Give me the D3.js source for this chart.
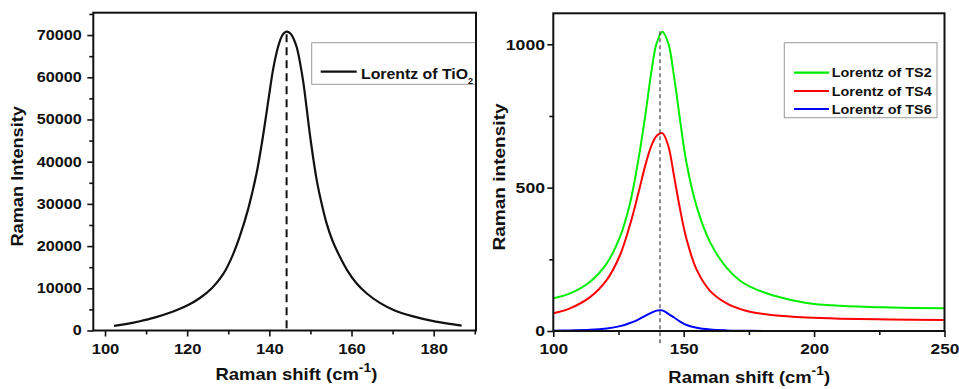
<!DOCTYPE html>
<html>
<head>
<meta charset="utf-8">
<script src="https://cdn.jsdelivr.net/npm/d3@7/dist/d3.min.js"></script>
<style>
  html, body { margin: 0; padding: 0; background: #fff; }
  svg { display: block; }
  text { font-family: "Liberation Sans", Arial, Helvetica, sans-serif; font-weight: bold; fill: #111; }
</style>
</head>
<body>
<svg id="chart" width="959" height="389"></svg>
<script>
// ---- Left panel: Lorentz fit of TiO2 ----
const tio2Shift = [102.2, 105, 108.5, 112, 116.6, 120, 123.1, 126, 128.8, 130.8, 132.8, 134.9, 136.9, 138.2, 139.3, 140.1, 140.9, 141.8, 142.6, 143.4, 144.2, 145.2, 146, 146.7, 147.5, 148.3, 149.1, 149.9, 151.5, 152.6, 153.9, 155.4, 157.2, 159, 161.2, 163.8, 166.9, 170.5, 175, 180.5, 186.8];
const tio2Intensity = [1080, 1500, 2200, 3050, 4500, 5900, 7700, 10000, 13400, 17200, 22300, 29000, 37300, 44500, 51500, 56800, 61800, 66000, 68700, 70300, 70800, 70300, 68900, 67000, 63300, 58600, 52500, 46200, 35800, 30600, 25500, 21200, 17400, 14200, 11200, 8700, 6550, 4750, 3350, 2100, 1150];
const tio2Peak = 144.2;

const leftXTicks = [100, 120, 140, 160, 180];
const leftXMinor = [110, 130, 150, 170, 190];
const leftYTicks = [0, 10000, 20000, 30000, 40000, 50000, 60000, 70000];
const leftYMinor = [5000, 15000, 25000, 35000, 45000, 55000, 65000, 75000];

// ---- Right panel: Lorentz fits of TS2 / TS4 / TS6 ----
const tsShift = [100, 106.4, 114.1, 120.5, 125.6, 129.4, 132.6, 135.2, 137.7, 139.6, 141.8, 144.1, 146.3, 148.6, 151.1, 155, 160.1, 166.5, 171.5, 175.4, 184.4, 197.2, 209.9, 229.1, 250];
const ts2 = [114, 131, 172, 236, 329, 445, 596, 747, 910, 1003, 1044, 1003, 887, 736, 585, 433, 310, 220, 176, 155, 124, 98, 88, 82, 79];
const ts4 = [62, 79, 118, 178, 265, 370, 480, 575, 648, 680, 690, 645, 540, 425, 320, 213, 140, 96, 77, 67, 55, 47, 43, 40, 38];
const ts6 = [1, 2, 4, 9, 17, 28, 40, 53, 64, 71, 72, 60, 47, 33, 21, 11, 5, 2, 1, 0.5, 0, 0, 0, 0, 0];
const tsPeak = 140.9;
const tsNames = ["Lorentz of TS2", "Lorentz of TS4", "Lorentz of TS6"];
const tsColors = ["#00ee00", "#ff0000", "#0000ff"];

const rightXTicks = [100, 150, 200, 250];
const rightXMinor = [125, 175, 225];
const rightYTicks = [0, 500, 1000];
const rightYMinor = [250, 750];

const svg = d3.select("#chart");

// Scales
const xL = d3.scaleLinear().domain([97.15, 190.3]).range([93.3, 476]);
const yL = d3.scaleLinear().domain([0, 75300]).range([330.5, 12.7]);
const xR = d3.scaleLinear().domain([100, 250]).range([553.3, 944.5]);
const yR = d3.scaleLinear().domain([0, 1108]).range([331, 13.3]);

// Stretch a plain text element's advance to a given width per character
function widen(sel, adv) {
  sel.attr("textLength", function () { return this.textContent.length * adv; })
     .attr("lengthAdjust", "spacingAndGlyphs");
}

function drawAxes(x, y, xt, xm, yt, ym, opt) {
  const [x0] = x.range();
  const [y0] = y.range();
  const gx = svg.append("g").attr("transform", `translate(0,${y0})`)
    .call(d3.axisBottom(x).tickValues(xt).tickSize(6).tickPadding(opt.xPad).tickFormat(d3.format("d")));
  gx.select(".domain").remove();
  gx.selectAll("line").attr("stroke", "#111").attr("stroke-width", 1.6);
  gx.selectAll("text").attr("font-size", opt.xFont).attr("fill", "#111").call(widen, opt.xAdv);

  const gxm = svg.append("g").attr("transform", `translate(0,${y0})`)
    .call(d3.axisBottom(x).tickValues(xm).tickSize(4).tickFormat(""));
  gxm.select(".domain").remove();
  gxm.selectAll("line").attr("stroke", "#111").attr("stroke-width", 1.6);

  const gy = svg.append("g").attr("transform", `translate(${x0},0)`)
    .call(d3.axisLeft(y).tickValues(yt).tickSize(6).tickPadding(opt.yPad).tickFormat(d3.format("d")));
  gy.select(".domain").remove();
  gy.selectAll("line").attr("stroke", "#111").attr("stroke-width", 1.6);
  gy.selectAll("text").attr("font-size", opt.yFont).attr("fill", "#111").call(widen, opt.yAdv);

  const gym = svg.append("g").attr("transform", `translate(${x0},0)`)
    .call(d3.axisLeft(y).tickValues(ym).tickSize(4).tickFormat(""));
  gym.select(".domain").remove();
  gym.selectAll("line").attr("stroke", "#111").attr("stroke-width", 1.6);
}

function frame(x, y) {
  const [x0, x1] = x.range();
  const [y0, y1] = y.range();
  svg.append("rect").attr("x", x0).attr("y", y1).attr("width", x1 - x0).attr("height", y0 - y1)
    .attr("fill", "none").attr("stroke", "#111").attr("stroke-width", 2);
}

// Axis title with a superscript, stretched to the given width
function xTitle(cx, baseline, width) {
  const g = svg.append("g");
  const t = g.append("text").attr("text-anchor", "middle").attr("font-size", 16);
  t.append("tspan").text("Raman shift (cm");
  t.append("tspan").attr("font-size", 12).attr("dy", -8).text("-1");
  t.append("tspan").attr("dy", 8).text(")");
  const w = t.node().getBBox().width;
  g.attr("transform", `translate(${cx},${baseline}) scale(${width / w},1)`);
}

function yTitle(label, bx, cy, length) {
  const g = svg.append("g");
  const t = g.append("text").attr("text-anchor", "middle").attr("font-size", 16).text(label);
  const w = t.node().getBBox().width;
  g.attr("transform", `translate(${bx},${cy}) rotate(-90) scale(${length / w},1)`);
}

const smooth = d3.curveCatmullRom.alpha(0.5);

// ---------- Left panel ----------
drawAxes(xL, yL, leftXTicks, leftXMinor, leftYTicks, leftYMinor,
  { xPad: 6.5, xFont: 15, xAdv: 9.2, yPad: 5.6, yFont: 14, yAdv: 9.0 });

const lineL = d3.line().x((d, i) => xL(tio2Shift[i])).y(d => yL(d)).curve(smooth);
svg.append("path").datum(tio2Intensity).attr("d", lineL)
  .attr("fill", "none").attr("stroke", "#111").attr("stroke-width", 2.2);

svg.append("line")
  .attr("x1", xL(tio2Peak)).attr("x2", xL(tio2Peak))
  .attr("y1", yL(70200)).attr("y2", yL(0))
  .attr("stroke", "#111").attr("stroke-width", 2).attr("stroke-dasharray", "8,5");

frame(xL, yL);

// Legend (left)
svg.append("rect").attr("x", 311.7).attr("y", 42.7).attr("width", 164).attr("height", 41.6)
  .attr("fill", "#fff").attr("stroke", "#9a9a9a").attr("stroke-width", 1);
svg.append("line").attr("x1", 320.7).attr("x2", 356.7).attr("y1", 71.7).attr("y2", 71.7)
  .attr("stroke", "#111").attr("stroke-width", 2.2);
const legL = svg.append("text").attr("x", 361).attr("y", 79.3).attr("font-size", 15);
legL.append("tspan").attr("textLength", 107).attr("lengthAdjust", "spacingAndGlyphs").text("Lorentz of TiO");
legL.append("tspan").attr("font-size", 9).attr("dy", 4.5).text("2");
// frame edge drawn again over the legend box border
svg.append("line").attr("x1", 476).attr("x2", 476).attr("y1", 12.7).attr("y2", 330.5)
  .attr("stroke", "#111").attr("stroke-width", 2);

xTitle(296.4, 380, 162);
yTitle("Raman Intensity", 23.2, 176.3, 140.7);

// ---------- Right panel ----------
drawAxes(xR, yR, rightXTicks, rightXMinor, rightYTicks, rightYMinor,
  { xPad: 6.3, xFont: 15, xAdv: 9.6, yPad: 2.3, yFont: 15, yAdv: 9.8 });

const seriesR = [ts2, ts4, ts6];
const lineR = d3.line().x((d, i) => xR(tsShift[i])).y(d => yR(Math.max(0, d))).curve(smooth);
seriesR.forEach((vals, k) => {
  svg.append("path").datum(vals).attr("d", lineR)
    .attr("fill", "none").attr("stroke", tsColors[k]).attr("stroke-width", 2);
});

svg.append("line")
  .attr("x1", xR(tsPeak)).attr("x2", xR(tsPeak))
  .attr("y1", yR(1045)).attr("y2", 346)
  .attr("stroke", "#444").attr("stroke-width", 1.2).attr("stroke-dasharray", "4,3");

frame(xR, yR);

// Legend (right)
svg.append("rect").attr("x", 784.3).attr("y", 42.7).attr("width", 152.7).attr("height", 75)
  .attr("fill", "#fff").attr("stroke", "#9a9a9a").attr("stroke-width", 1);
const legRowsY = [72.7, 91, 109];
tsNames.forEach((name, k) => {
  svg.append("line").attr("x1", 794).attr("x2", 829).attr("y1", legRowsY[k]).attr("y2", legRowsY[k])
    .attr("stroke", tsColors[k]).attr("stroke-width", 2.2);
  svg.append("text").attr("x", 831.7).attr("y", legRowsY[k] + 4.6).attr("font-size", 13)
    .attr("textLength", 100).attr("lengthAdjust", "spacingAndGlyphs").text(name);
});

xTitle(749.2, 383, 161.7);
yTitle("Raman intensity", 504.8, 177, 147.4);
</script>
</body>
</html>
